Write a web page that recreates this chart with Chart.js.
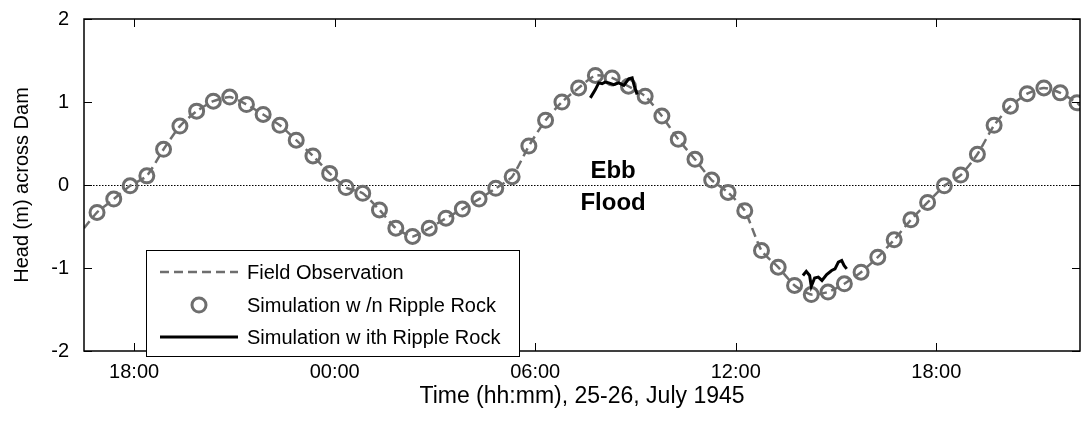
<!DOCTYPE html>
<html>
<head>
<meta charset="utf-8">
<script src="https://cdn.jsdelivr.net/npm/chart.js@4.4.1/dist/chart.umd.min.js"></script>
<style>
  html, body { margin: 0; padding: 0; background: #fff; }
  #wrap { width: 1083px; height: 421px; }
</style>
</head>
<body>
<div id="wrap"><canvas id="myChart" width="1083" height="421"></canvas></div>
<script>
// time in hours counted from 00:00 on 25 July 1945
const tickHours = [18, 24, 30, 36, 42];
const tickLabels = ["18:00", "00:00", "06:00", "12:00", "18:00"];

// simulation without Ripple Rock (circles)
const noRockTimes = [16.89, 17.39, 17.88, 18.38, 18.88, 19.37, 19.87, 20.37, 20.86, 21.36,
  21.86, 22.36, 22.85, 23.35, 23.85, 24.34, 24.84, 25.34, 25.83, 26.33,
  26.83, 27.33, 27.82, 28.32, 28.82, 29.31, 29.81, 30.31, 30.80, 31.30,
  31.80, 32.30, 32.79, 33.29, 33.79, 34.28, 34.78, 35.28, 35.77, 36.27,
  36.77, 37.27, 37.76, 38.26, 38.76, 39.25, 39.75, 40.25, 40.74, 41.24,
  41.74, 42.24, 42.73, 43.23, 43.73, 44.22, 44.72, 45.22, 45.71, 46.21];
const noRockHead = [-0.33, -0.17, -0.01, 0.11, 0.43, 0.71, 0.89, 1.01, 1.06, 0.97,
  0.85, 0.72, 0.54, 0.35, 0.14, -0.03, -0.10, -0.30, -0.52, -0.62,
  -0.52, -0.40, -0.29, -0.17, -0.04, 0.10, 0.47, 0.78, 1.00, 1.17,
  1.32, 1.29, 1.19, 1.07, 0.83, 0.55, 0.31, 0.06, -0.09, -0.31,
  -0.79, -0.99, -1.21, -1.32, -1.29, -1.19, -1.05, -0.87, -0.66, -0.42,
  -0.21, -0.01, 0.12, 0.37, 0.72, 0.95, 1.10, 1.17, 1.11, 0.99];

// field observation (dashed) runs through the same points, edge to edge
const obsTimes = [16.5, ...noRockTimes, 46.3];
const obsHead = [-0.52, ...noRockHead, 0.96];

// simulation with Ripple Rock, two short runs (null = gap)
const rockTimes = [31.65, 31.80, 31.90, 32.00, 32.09, 32.20, 32.35, 32.50, 32.65, 32.80, 32.90, 32.96, 33.05,
  35.5,
  38.01, 38.11, 38.21, 38.26, 38.36, 38.47, 38.58, 38.72, 38.87, 38.97, 39.07, 39.17, 39.24, 39.32];
const rockHead = [1.05, 1.15, 1.23, 1.22, 1.24, 1.23, 1.21, 1.23, 1.20, 1.28, 1.29, 1.20, 1.09,
  null,
  -1.09, -1.04, -1.09, -1.22, -1.12, -1.11, -1.15, -1.08, -1.03, -1.01, -0.93, -0.91, -0.97, -1.01];

const notes = [
  { text: "Ebb", t: 32.33, h: 0.16 },
  { text: "Flood", t: 32.33, h: -0.22 },
];

const FONT = "'Liberation Sans', Arial, sans-serif";
const GREY = "#6e6e6e";

function pts(xs, ys) {
  return xs.map((x, i) => ({ x: x, y: ys[i] }));
}

const frame = {
  id: "frame",
  beforeDatasetsDraw(chart) {
    const { ctx, chartArea: a, scales } = chart;
    const y0 = Math.round(scales.y.getPixelForValue(0)) + 0.5;
    ctx.save();
    ctx.strokeStyle = "#000";
    ctx.lineWidth = 1;
    ctx.setLineDash([1.5, 1.5]);
    ctx.beginPath();
    ctx.moveTo(a.left, y0);
    ctx.lineTo(a.right, y0);
    ctx.stroke();
    ctx.restore();
  },
  afterDatasetsDraw(chart) {
    const { ctx, chartArea: a, scales } = chart;
    const x = scales.x, y = scales.y;
    ctx.save();
    // box and inward ticks
    ctx.strokeStyle = "#000";
    ctx.lineWidth = 1.5;
    ctx.strokeRect(a.left, a.top, a.right - a.left, a.bottom - a.top);
    ctx.lineWidth = 1;
    ctx.beginPath();
    y.ticks.forEach((tk) => {
      const py = Math.round(y.getPixelForValue(tk.value)) + 0.5;
      ctx.moveTo(a.left, py); ctx.lineTo(a.left + 8, py);
      ctx.moveTo(a.right, py); ctx.lineTo(a.right - 8, py);
    });
    x.ticks.forEach((tk) => {
      const px = Math.round(x.getPixelForValue(tk.value)) + 0.5;
      ctx.moveTo(px, a.top); ctx.lineTo(px, a.top + 8);
      ctx.moveTo(px, a.bottom); ctx.lineTo(px, a.bottom - 8);
    });
    ctx.stroke();

    // Ebb / Flood
    ctx.fillStyle = "#000";
    ctx.font = "bold 24px " + FONT;
    ctx.textAlign = "center";
    ctx.textBaseline = "middle";
    notes.forEach((n) => {
      ctx.fillText(n.text, x.getPixelForValue(n.t), y.getPixelForValue(n.h));
    });

    // legend box
    const ds = chart.data.datasets;
    const lx = 146, ly = 250, lw = 373, lh = 106;
    ctx.fillStyle = "#fff";
    ctx.fillRect(lx, ly, lw, lh);
    ctx.strokeStyle = "#000";
    ctx.lineWidth = 1;
    ctx.strokeRect(lx + 0.5, ly + 0.5, lw, lh);
    const rows = [
      { d: ds[1], y: 272, kind: "line" },
      { d: ds[2], y: 305, kind: "point" },
      { d: ds[0], y: 337, kind: "line" },
    ];
    rows.forEach((r) => {
      ctx.save();
      if (r.kind === "line") {
        ctx.strokeStyle = r.d.borderColor;
        ctx.lineWidth = r.d.borderWidth;
        ctx.setLineDash(r.d.borderDash || []);
        ctx.beginPath();
        ctx.moveTo(160, r.y);
        ctx.lineTo(238, r.y);
        ctx.stroke();
      } else {
        ctx.strokeStyle = r.d.pointBorderColor;
        ctx.lineWidth = r.d.pointBorderWidth;
        ctx.beginPath();
        ctx.arc(199, r.y, r.d.pointRadius, 0, Math.PI * 2);
        ctx.stroke();
      }
      ctx.restore();
      ctx.fillStyle = "#000";
      ctx.font = "20px " + FONT;
      ctx.textAlign = "left";
      ctx.textBaseline = "middle";
      ctx.fillText(r.d.label, 247, r.y + 1);
    });
    ctx.restore();
  },
};

const config = {
  type: "line",
  data: {
    datasets: [
      {
        label: "Simulation w ith Ripple Rock",
        data: pts(rockTimes, rockHead),
        borderColor: "#000",
        borderWidth: 3,
        pointRadius: 0,
        spanGaps: false,
        tension: 0,
        clip: 0,
      },
      {
        label: "Field Observation",
        data: pts(obsTimes, obsHead),
        borderColor: GREY,
        borderWidth: 2.5,
        borderDash: [9, 5],
        pointRadius: 0,
        tension: 0.2,
        clip: 0,
      },
      {
        label: "Simulation w /n Ripple Rock",
        data: pts(noRockTimes, noRockHead),
        showLine: false,
        pointRadius: 7,
        pointBorderWidth: 3,
        pointBorderColor: GREY,
        pointBackgroundColor: "rgba(0,0,0,0)",
        clip: 0,
      },
    ],
  },
  options: {
    responsive: false,
    animation: false,
    devicePixelRatio: 1,
    layout: { autoPadding: false, padding: { left: 0, right: 3, top: 19, bottom: 0 } },
    plugins: { legend: { display: false }, tooltip: { enabled: false } },
    scales: {
      x: {
        type: "linear",
        min: 16.5,
        max: 46.3,
        afterBuildTicks: (s) => { s.ticks = tickHours.map((v) => ({ value: v })); },
        afterFit: (s) => { s.height = 70; s.paddingLeft = 0; s.paddingRight = 0; },
        grid: { display: false, drawTicks: false },
        border: { display: false },
        ticks: {
          autoSkip: false,
          maxRotation: 0,
          padding: 9,
          color: "#000",
          font: { family: FONT, size: 20 },
          callback: (v, i) => tickLabels[i],
        },
        title: {
          display: true,
          text: "Time (hh:mm), 25-26, July 1945",
          color: "#000",
          font: { family: FONT, size: 23 },
          padding: { top: 0, bottom: 11 },
        },
      },
      y: {
        min: -2,
        max: 2,
        afterFit: (s) => { s.width = 84; s.paddingTop = 0; s.paddingBottom = 0; },
        grid: { display: false, drawTicks: false },
        border: { display: false },
        ticks: {
          stepSize: 1,
          padding: 15,
          color: "#000",
          font: { family: FONT, size: 20 },
          callback: (v) => String(v),
        },
        title: {
          display: true,
          text: "Head (m) across Dam",
          color: "#000",
          font: { family: FONT, size: 20 },
          padding: { top: 10, bottom: 0 },
        },
      },
    },
  },
  plugins: [frame],
};

new Chart(document.getElementById("myChart"), config);
</script>
</body>
</html>
